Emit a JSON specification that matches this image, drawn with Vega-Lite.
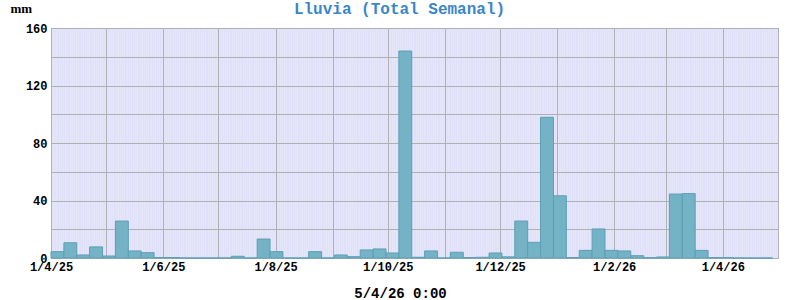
{
  "$schema": "https://vega.github.io/schema/vega-lite/v6.json",
  "width": 727,
  "height": 230,
  "autosize": "none",
  "padding": {"left": 51, "top": 28, "right": 22, "bottom": 42},
  "background": "white",
  "config": {
    "view": {"fill": "#e6e6fa", "stroke": "#a8a8a8", "strokeWidth": 1},
    "axis": {"labelFont": "Liberation Mono", "labelFontWeight": "bold", "labelFontSize": 12, "labelColor": "#000000"}
  },
  "title": {"text": "Lluvia (Total Semanal)", "font": "Liberation Mono", "fontSize": 16, "fontWeight": "bold", "color": "#3a86c8", "anchor": "middle", "frame": "group", "dx": -15, "offset": -15},
  "data": {"values": [
    {"start": "2025-04-01T00:00:00", "end": "2025-04-08T00:00:00", "mm": 4.4},
    {"start": "2025-04-08T00:00:00", "end": "2025-04-15T00:00:00", "mm": 10.6},
    {"start": "2025-04-15T00:00:00", "end": "2025-04-22T00:00:00", "mm": 2.1},
    {"start": "2025-04-22T00:00:00", "end": "2025-04-29T00:00:00", "mm": 7.7},
    {"start": "2025-04-29T00:00:00", "end": "2025-05-06T00:00:00", "mm": 1.4},
    {"start": "2025-05-06T00:00:00", "end": "2025-05-13T00:00:00", "mm": 25.7},
    {"start": "2025-05-13T00:00:00", "end": "2025-05-20T00:00:00", "mm": 4.9},
    {"start": "2025-05-20T00:00:00", "end": "2025-05-27T00:00:00", "mm": 3.7},
    {"start": "2025-05-27T00:00:00", "end": "2025-06-03T00:00:00", "mm": 0.3},
    {"start": "2025-06-03T00:00:00", "end": "2025-06-10T00:00:00", "mm": 0.3},
    {"start": "2025-06-10T00:00:00", "end": "2025-06-17T00:00:00", "mm": 0},
    {"start": "2025-06-17T00:00:00", "end": "2025-06-24T00:00:00", "mm": 0},
    {"start": "2025-06-24T00:00:00", "end": "2025-07-01T00:00:00", "mm": 0},
    {"start": "2025-07-01T00:00:00", "end": "2025-07-08T00:00:00", "mm": 0},
    {"start": "2025-07-08T00:00:00", "end": "2025-07-15T00:00:00", "mm": 1.2},
    {"start": "2025-07-15T00:00:00", "end": "2025-07-22T00:00:00", "mm": 0},
    {"start": "2025-07-22T00:00:00", "end": "2025-07-29T00:00:00", "mm": 13.2},
    {"start": "2025-07-29T00:00:00", "end": "2025-08-05T00:00:00", "mm": 4.4},
    {"start": "2025-08-05T00:00:00", "end": "2025-08-12T00:00:00", "mm": 0},
    {"start": "2025-08-12T00:00:00", "end": "2025-08-19T00:00:00", "mm": 0},
    {"start": "2025-08-19T00:00:00", "end": "2025-08-26T00:00:00", "mm": 4.4},
    {"start": "2025-08-26T00:00:00", "end": "2025-09-02T00:00:00", "mm": 0},
    {"start": "2025-09-02T00:00:00", "end": "2025-09-09T00:00:00", "mm": 2.1},
    {"start": "2025-09-09T00:00:00", "end": "2025-09-16T00:00:00", "mm": 0.9},
    {"start": "2025-09-16T00:00:00", "end": "2025-09-23T00:00:00", "mm": 5.6},
    {"start": "2025-09-23T00:00:00", "end": "2025-09-30T00:00:00", "mm": 6.3},
    {"start": "2025-09-30T00:00:00", "end": "2025-10-07T00:00:00", "mm": 3.5},
    {"start": "2025-10-07T00:00:00", "end": "2025-10-14T00:00:00", "mm": 144},
    {"start": "2025-10-14T00:00:00", "end": "2025-10-21T00:00:00", "mm": 0.5},
    {"start": "2025-10-21T00:00:00", "end": "2025-10-28T00:00:00", "mm": 4.9},
    {"start": "2025-10-28T00:00:00", "end": "2025-11-04T00:00:00", "mm": 0},
    {"start": "2025-11-04T00:00:00", "end": "2025-11-11T00:00:00", "mm": 4.0},
    {"start": "2025-11-11T00:00:00", "end": "2025-11-18T00:00:00", "mm": 0.3},
    {"start": "2025-11-18T00:00:00", "end": "2025-11-25T00:00:00", "mm": 0.5},
    {"start": "2025-11-25T00:00:00", "end": "2025-12-02T00:00:00", "mm": 3.5},
    {"start": "2025-12-02T00:00:00", "end": "2025-12-09T00:00:00", "mm": 0.8},
    {"start": "2025-12-09T00:00:00", "end": "2025-12-16T00:00:00", "mm": 25.7},
    {"start": "2025-12-16T00:00:00", "end": "2025-12-23T00:00:00", "mm": 10.9},
    {"start": "2025-12-23T00:00:00", "end": "2025-12-30T00:00:00", "mm": 97.9},
    {"start": "2025-12-30T00:00:00", "end": "2026-01-06T00:00:00", "mm": 43.3},
    {"start": "2026-01-06T00:00:00", "end": "2026-01-13T00:00:00", "mm": 0.3},
    {"start": "2026-01-13T00:00:00", "end": "2026-01-20T00:00:00", "mm": 5.3},
    {"start": "2026-01-20T00:00:00", "end": "2026-01-27T00:00:00", "mm": 20.2},
    {"start": "2026-01-27T00:00:00", "end": "2026-02-03T00:00:00", "mm": 5.3},
    {"start": "2026-02-03T00:00:00", "end": "2026-02-10T00:00:00", "mm": 4.9},
    {"start": "2026-02-10T00:00:00", "end": "2026-02-17T00:00:00", "mm": 1.6},
    {"start": "2026-02-17T00:00:00", "end": "2026-02-24T00:00:00", "mm": 0.2},
    {"start": "2026-02-24T00:00:00", "end": "2026-03-03T00:00:00", "mm": 0.7},
    {"start": "2026-03-03T00:00:00", "end": "2026-03-10T00:00:00", "mm": 44.5},
    {"start": "2026-03-10T00:00:00", "end": "2026-03-17T00:00:00", "mm": 44.8},
    {"start": "2026-03-17T00:00:00", "end": "2026-03-24T00:00:00", "mm": 5.3},
    {"start": "2026-03-24T00:00:00", "end": "2026-03-31T00:00:00", "mm": 0.3},
    {"start": "2026-03-31T00:00:00", "end": "2026-04-07T00:00:00", "mm": 0.2},
    {"start": "2026-04-07T00:00:00", "end": "2026-04-14T00:00:00", "mm": 0},
    {"start": "2026-04-14T00:00:00", "end": "2026-04-21T00:00:00", "mm": 0},
    {"start": "2026-04-21T00:00:00", "end": "2026-04-28T00:00:00", "mm": 0}
  ]},
  "encoding": {
    "y": {
      "field": "mm", "type": "quantitative",
      "scale": {"domain": [0, 160], "nice": false},
      "axis": {
        "values": [0, 20, 40, 60, 80, 100, 120, 140, 160],
        "labelExpr": "datum.value % 40 == 0 ? datum.label : ''",
        "labelOverlap": false,
        "labelPadding": 4,
        "ticks": false, "domain": false,
        "gridColor": "#b0b0b0", "gridWidth": 1, "gridOpacity": 1,
        "title": "mm", "titleAngle": 0, "titleX": -41, "titleY": -20,
        "titleAlign": "left", "titleBaseline": "middle",
        "titleFont": "Liberation Serif", "titleFontSize": 13, "titleFontWeight": "bold", "titleColor": "#000000"
      }
    },
    "y2": {"datum": 0}
  },
  "layer": [
    {
      "mark": {"type": "bar", "opacity": 0},
      "encoding": {
        "x": {
          "field": "start", "type": "temporal",
          "scale": {"domain": [{"year": 2025, "month": 4, "date": 1}, {"year": 2026, "month": 5, "date": 1}]},
          "axis": {"orient": "top", "tickCount": {"interval": "day", "step": 1}, "grid": true, "gridColor": "#d6d6f8", "gridWidth": 1, "gridOpacity": 0.4, "labels": false, "ticks": false, "domain": false, "title": null}
        },
        "x2": {"field": "end"}
      }
    },
    {
      "mark": {"type": "bar", "fill": "#74b3c6", "stroke": "#5b9fb5", "strokeWidth": 1},
      "encoding": {
        "x": {
          "field": "start", "type": "temporal",
          "scale": {"domain": [{"year": 2025, "month": 4, "date": 1}, {"year": 2026, "month": 5, "date": 1}]},
          "axis": {
            "orient": "bottom", "tickCount": {"interval": "month", "step": 1},
            "format": "%-d/%-m/%y",
            "labelExpr": "month(datum.value) % 2 == 1 ? datum.label : ''",
            "labelOverlap": false, "labelFlush": false, "labelPadding": 3,
            "grid": true, "gridColor": "#b0b0b0", "gridWidth": 1, "gridOpacity": 1,
            "ticks": false, "domain": false,
            "title": "5/4/26 0:00", "titleX": 349, "titleY": 35, "titleAlign": "center", "titleBaseline": "middle",
            "titleFont": "Liberation Mono", "titleFontSize": 14, "titleFontWeight": "bold", "titleColor": "#000000"
          }
        },
        "x2": {"field": "end"}
      }
    }
  ],
  "resolve": {"axis": {"x": "independent"}}
}
